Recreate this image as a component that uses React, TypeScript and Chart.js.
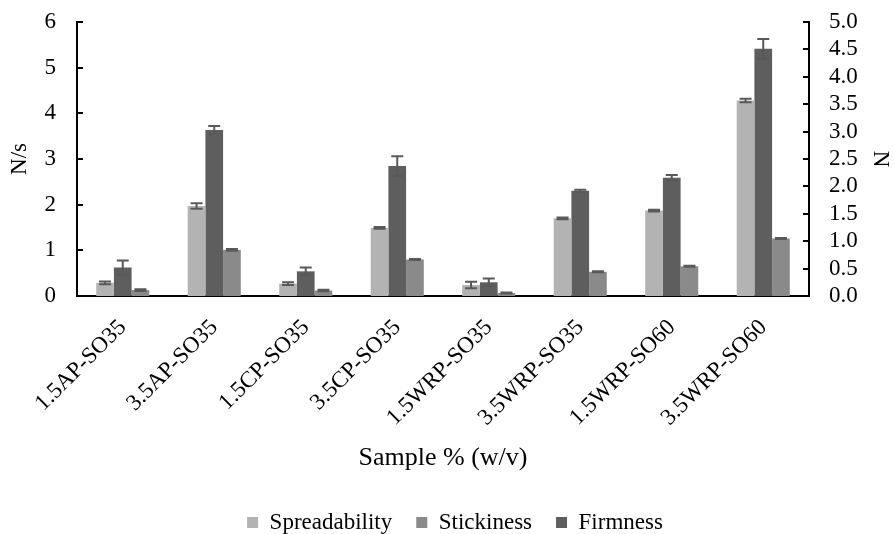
import React, { useEffect, useRef } from "react";
import { Chart, registerables } from "chart.js";

Chart.register(...registerables);

const categories = [
  "1.5AP-SO35",
  "3.5AP-SO35",
  "1.5CP-SO35",
  "3.5CP-SO35",
  "1.5WRP-SO35",
  "3.5WRP-SO35",
  "1.5WRP-SO60",
  "3.5WRP-SO60",
];

// Left axis (N/s)
const spreadability = [0.29, 1.97, 0.27, 1.49, 0.24, 1.7, 1.87, 4.28];
const spreadabilityErr = [0.03, 0.06, 0.03, 0.02, 0.07, 0.02, 0.02, 0.04];
const stickiness = [0.13, 1.01, 0.12, 0.8, 0.065, 0.53, 0.65, 1.26];
const stickinessErr = [0.02, 0.02, 0.015, 0.01, 0.01, 0.01, 0.01, 0.01];
// Right axis (N)
const firmness = [0.52, 3.03, 0.45, 2.37, 0.25, 1.92, 2.16, 4.51];
const firmnessErr = [0.13, 0.07, 0.07, 0.18, 0.07, 0.02, 0.05, 0.18];

const leftTicks = [0, 1, 2, 3, 4, 5, 6];
const rightTicks = [0, 0.5, 1, 1.5, 2, 2.5, 3, 3.5, 4, 4.5, 5];
const legendOrder = ["Spreadability", "Stickiness", "Firmness"];

const FONT = "'Liberation Serif', 'Times New Roman', serif";
const FS = 23;

const errorBarPlugin = {
  id: "errorBars",
  afterDatasetsDraw(chart: any) {
    const ctx = chart.ctx;
    ctx.save();
    chart.data.datasets.forEach((ds: any, i: number) => {
      const meta = chart.getDatasetMeta(i);
      if (meta.hidden) return;
      const scale = chart.scales[ds.yAxisID];
      meta.data.forEach((el: any, j: number) => {
        const v = ds.data[j];
        const e = ds.errorBars[j];
        const yTop = scale.getPixelForValue(v + e);
        const yBot = scale.getPixelForValue(v - e);
        const x = el.x;
        ctx.strokeStyle = "#595959";
        ctx.lineWidth = 2;
        ctx.beginPath();
        ctx.moveTo(x, yTop);
        ctx.lineTo(x, yBot);
        ctx.moveTo(x - 6, yTop);
        ctx.lineTo(x + 6, yTop);
        ctx.moveTo(x - 6, yBot);
        ctx.lineTo(x + 6, yBot);
        ctx.stroke();
      });
    });
    ctx.restore();
  },
};

const innerTicksPlugin = {
  id: "innerTicks",
  afterDraw(chart: any) {
    const ctx = chart.ctx;
    ctx.save();
    ctx.strokeStyle = "#000";
    ctx.lineWidth = 2;
    const y = chart.scales.y;
    const y1 = chart.scales.y1;
    ctx.beginPath();
    y.ticks.forEach((t: any) => {
      const p = Math.round(y.getPixelForValue(t.value));
      ctx.moveTo(y.right, p);
      ctx.lineTo(y.right + 6, p);
    });
    y1.ticks.forEach((t: any) => {
      const p = Math.round(y1.getPixelForValue(t.value));
      ctx.moveTo(y1.left, p);
      ctx.lineTo(y1.left - 6, p);
    });
    ctx.stroke();
    ctx.restore();
  },
};

export default function App() {
  const canvasRef = useRef<HTMLCanvasElement | null>(null);

  useEffect(() => {
    if (!canvasRef.current) return;
    const chart = new Chart(canvasRef.current, {
      type: "bar",
      data: {
        labels: categories,
        datasets: [
          {
            label: "Spreadability",
            data: spreadability,
            errorBars: spreadabilityErr,
            yAxisID: "y",
            backgroundColor: "#b3b3b3",
          } as any,
          {
            label: "Firmness",
            data: firmness,
            errorBars: firmnessErr,
            yAxisID: "y1",
            backgroundColor: "#5e5e5e",
          } as any,
          {
            label: "Stickiness",
            data: stickiness,
            errorBars: stickinessErr,
            yAxisID: "y",
            backgroundColor: "#8a8a8a",
          } as any,
        ],
      },
      options: {
        animation: false,
        responsive: true,
        maintainAspectRatio: false,
        datasets: {
          bar: { categoryPercentage: 0.58, barPercentage: 1.0 },
        },
        layout: { padding: { top: 22, left: 16, right: 0, bottom: -10 } },
        plugins: {
          tooltip: { enabled: false },
          legend: {
            position: "bottom",
            labels: {
              font: { family: FONT, size: FS },
              color: "#000",
              boxWidth: 11,
              boxHeight: 11,
              padding: 24,
              sort: (a: any, b: any) =>
                legendOrder.indexOf(a.text) - legendOrder.indexOf(b.text),
            },
          },
        },
        scales: {
          x: {
            grid: { display: false, drawTicks: false },
            border: { display: true, color: "#000", width: 2 },
            ticks: {
              font: { family: FONT, size: FS },
              color: "#000",
              autoSkip: false,
              minRotation: 45,
              maxRotation: 45,
              padding: 18,
            },
            title: {
              display: true,
              text: "Sample % (w/v)",
              font: { family: FONT, size: 26 },
              color: "#000",
              padding: { top: 0, bottom: 13 },
            },
            afterFit: (s: any) => {
              s.height = 191;
              s.paddingLeft = 0;
              s.paddingRight = 0;
            },
          },
          y: {
            position: "left",
            min: 0,
            max: 6,
            afterBuildTicks: (s: any) => {
              s.ticks = leftTicks.map((v) => ({ value: v }));
            },
            grid: { display: false, drawTicks: false },
            border: { display: true, color: "#000", width: 2 },
            ticks: {
              font: { family: FONT, size: FS },
              color: "#000",
              padding: 21,
              autoSkip: false,
              callback: (v: any) => String(v),
            },
            title: {
              display: true,
              text: "N/s",
              font: { family: FONT, size: FS },
              color: "#000",
              padding: { top: -10, bottom: 0 },
            },
            afterFit: (s: any) => {
              s.width = 61;
              s.paddingTop = 0;
              s.paddingBottom = 0;
            },
          },
          y1: {
            position: "right",
            min: 0,
            max: 5,
            afterBuildTicks: (s: any) => {
              s.ticks = rightTicks.map((v) => ({ value: v }));
            },
            grid: { display: false, drawTicks: false },
            border: { display: true, color: "#000", width: 2 },
            ticks: {
              font: { family: FONT, size: FS },
              color: "#000",
              padding: 20,
              autoSkip: false,
              callback: (v: any) => Number(v).toFixed(1),
            },
            title: {
              display: true,
              text: "N",
              font: { family: FONT, size: FS },
              color: "#000",
              padding: 0,
            },
            afterFit: (s: any) => {
              s.width = 85;
              s.paddingTop = 0;
              s.paddingBottom = 0;
            },
          },
        },
      } as any,
      plugins: [errorBarPlugin, innerTicksPlugin],
    });
    return () => chart.destroy();
  }, []);

  return (
    <div style={{ position: "fixed", left: 0, top: 0, width: 894, height: 534, background: "#fff" }}>
      <canvas ref={canvasRef} />
    </div>
  );
}
